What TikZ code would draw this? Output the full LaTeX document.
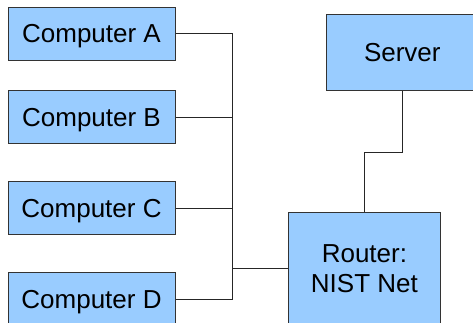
\documentclass[tikz,border=0pt]{standalone}
\usepackage{fontspec}
\setmainfont{Liberation Sans}
\definecolor{boxblue}{HTML}{99CCFF}
\definecolor{edgegray}{HTML}{333333}
\begin{document}
\begin{tikzpicture}[x=1pt,y=-1pt,
  box/.style={draw=edgegray, fill=boxblue, line width=1pt, inner sep=0pt,
    font=\fontsize{26}{30}\selectfont, align=center},
  pc/.style={box, minimum width=167pt, minimum height=53pt, text depth=0pt},
  wire/.style={draw=black!85, line width=1pt}]
  \clip (0,0) rectangle (473,323);
  \fill[white] (0,0) rectangle (473,323);

  % client machines
  \node[pc] (A) at (91.5,33.7) {Computer A};
  \node[pc] (B) at (91.5,117.3) {Computer B};
  \node[pc] (C) at (91.5,208.3) {Computer C};
  \node[pc] (D) at (91.5,299.2) {Computer D};

  % server and router
  \node[box, minimum width=152.6pt, minimum height=76.4pt] (server) at (402.3,52.5) {Server};
  \node[box, minimum width=151.3pt, minimum height=112pt] (router) at (364.4,268.2) {Router:\\NIST Net};

  % shared bus
  \coordinate (bus) at (232,0);
  \draw[wire] (A.east) -| (bus |- D.east) -- (D.east);
  \draw[wire] (B.east) -- (B.east -| bus);
  \draw[wire] (C.east) -- (C.east -| bus);
  \draw[wire] (router.west) -- (router.west -| bus);

  % uplink from router to server
  \draw[wire] (server.south) -- ++(0,61) -| (router.north);
\end{tikzpicture}
\end{document}
